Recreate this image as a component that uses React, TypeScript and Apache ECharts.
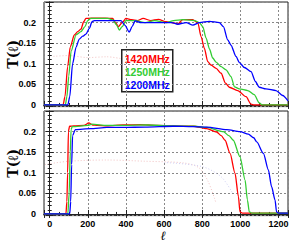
import React, { useEffect, useRef } from "react";
import * as echarts from "echarts";

const seriesNames = ["1420MHz", "1250MHz", "1200MHz"];
const seriesColors = ["#ff0000", "#33cc33", "#0000ff"];

const top1420 = [[-30,0],[70,0],[80,0.02],[94,0.093],[108,0.141],[129,0.17],[147,0.178],[164,0.184],[178,0.202],[190,0.21],[250,0.211],[330,0.21],[345,0.2],[360,0.19],[380,0.2],[400,0.21],[430,0.207],[460,0.205],[490,0.21],[530,0.205],[570,0.208],[611,0.202],[640,0.2],[672,0.197],[698,0.207],[750,0.207],[777,0.2],[794,0.166],[811,0.138],[829,0.105],[846,0.097],[873,0.089],[899,0.077],[922,0.053],[942,0.043],[986,0.035],[1030,0.02],[1056,0.002],[1073,0],[1250,0]];
const top1250 = [[-30,0],[82,0],[90,0.02],[100,0.07],[112,0.13],[138,0.17],[164,0.178],[185,0.19],[199,0.205],[216,0.21],[305,0.21],[330,0.207],[350,0.195],[365,0.182],[380,0.19],[400,0.205],[450,0.205],[500,0.2],[550,0.205],[611,0.2],[650,0.205],[700,0.207],[760,0.205],[785,0.2],[803,0.19],[820,0.163],[838,0.136],[855,0.114],[873,0.104],[899,0.093],[925,0.085],[951,0.069],[969,0.044],[995,0.039],[1039,0.035],[1073,0.025],[1099,0.005],[1116,0],[1250,0]];
const top1200 = [[-30,0],[95,0],[105,0.02],[120,0.1],[138,0.14],[155,0.16],[173,0.167],[190,0.172],[208,0.186],[222,0.202],[234,0.205],[300,0.205],[374,0.205],[395,0.193],[417,0.177],[432,0.19],[448,0.204],[480,0.2],[540,0.2],[580,0.2],[611,0.2],[640,0.2],[672,0.196],[716,0.2],[751,0.194],[785,0.2],[838,0.203],[890,0.2],[911,0.19],[934,0.158],[951,0.145],[977,0.118],[995,0.103],[1021,0.091],[1056,0.081],[1079,0.057],[1099,0.043],[1134,0.039],[1187,0.035],[1222,0.023],[1250,0.01]];

const bot1420 = [[-30,0],[85,0],[90,0.03],[94,0.1],[98,0.2],[104,0.213],[126,0.214],[180,0.215],[205,0.221],[225,0.216],[250,0.215],[300,0.214],[387,0.216],[475,0.217],[560,0.215],[649,0.214],[754,0.213],[824,0.207],[876,0.199],[900,0.19],[920,0.179],[946,0.147],[972,0.099],[990,0.042],[998,0.005],[1010,0.002],[1250,0.002]];
const bot1250 = [[-30,0],[95,0],[102,0.05],[108,0.15],[112,0.205],[118,0.212],[200,0.215],[220,0.218],[300,0.215],[400,0.215],[500,0.216],[650,0.214],[760,0.213],[824,0.21],[911,0.2],[940,0.19],[963,0.179],[998,0.139],[1025,0.082],[1037,0.034],[1047,0.005],[1060,0.002],[1250,0.002]];
const bot1200 = [[-30,0],[105,0],[110,0.03],[115,0.12],[120,0.19],[134,0.205],[213,0.207],[300,0.21],[387,0.21],[500,0.211],[649,0.213],[750,0.212],[824,0.211],[929,0.205],[998,0.2],[1042,0.194],[1070,0.185],[1086,0.175],[1121,0.147],[1147,0.107],[1164,0.066],[1182,0.034],[1190,0.005],[1200,0.002],[1250,0.002]];

const topFaint = [[20,0.118],[100,0.12],[200,0.115],[300,0.117],[380,0.112]];
const botFaintPink = [[-25,0.12],[100,0.128],[300,0.131],[500,0.128],[700,0.124],[780,0.113],[830,0.08],[870,0.03]];
const botFaintBlue = [[600,0.125],[800,0.115],[900,0.09],[960,0.05]];

const xMin = -30, xMax = 1250, yMin = -0.004, yMax = 0.25;

export default function App() {
  const ref = useRef<HTMLDivElement>(null);
  useEffect(() => {
    if (!ref.current) return;
    const chart = echarts.init(ref.current, null, { renderer: "svg" });
    const axisColor = "#222";
    const labelFont = { fontFamily: "Liberation Sans, Arial, sans-serif", fontWeight: "bold" as const, fontSize: 9, lineHeight: 9, color: "#000" };
    const splitLine = { show: true, lineStyle: { color: "#888", type: [2, 2] as any, width: 1 } };
    const grids = [
      { left: 44, right: 3, top: 2, height: 104.6, show: true, borderColor: axisColor, borderWidth: 1, containLabel: false, outerBoundsMode: "none" },
      { left: 44, right: 3, top: 111, height: 104.6, show: true, borderColor: axisColor, borderWidth: 1, containLabel: false, outerBoundsMode: "none" },
    ];
    const xAxes: any[] = [];
    const yAxes: any[] = [];
    for (let g = 0; g < 2; g++) {
      xAxes.push({
        type: "value", gridIndex: g, min: xMin, max: xMax, splitNumber: 6, position: "bottom",
        axisLine: { show: true, lineStyle: { color: axisColor } },
        axisTick: { show: true, inside: true, length: 4, lineStyle: { color: axisColor } },
        minorTick: { show: true, splitNumber: 4, length: 2, lineStyle: { color: axisColor } },
        splitLine,
        axisLabel: g === 1 ? { ...labelFont, margin: 4, showMinLabel: false, showMaxLabel: false,
          formatter: (v: number) => (v < 0 || v > 1200 ? "" : String(v)) } : { show: false },
        name: g === 1 ? "ℓ" : "",
        nameLocation: "middle", nameGap: 13.5, nameMoveOverlap: false,
        nameTextStyle: { fontFamily: "DejaVu Serif, serif", fontStyle: "italic", fontSize: 12.5, lineHeight: 12.5, color: "#000", verticalAlign: "top", padding: [0, 6, 0, 0] },
      });
      xAxes.push({
        type: "value", gridIndex: g, min: xMin, max: xMax, splitNumber: 6, position: "top",
        axisLine: { show: true, lineStyle: { color: axisColor } },
        axisTick: { show: true, inside: true, length: 4, lineStyle: { color: axisColor } },
        minorTick: { show: true, splitNumber: 4, length: 2, lineStyle: { color: axisColor } },
        splitLine: { show: false }, axisLabel: { show: false },
      });
      yAxes.push({
        type: "value", gridIndex: g, min: yMin, max: yMax, splitNumber: 5, position: "left",
        axisLine: { show: true, lineStyle: { color: axisColor } },
        axisTick: { show: true, inside: true, length: 4, lineStyle: { color: axisColor } },
        minorTick: { show: true, splitNumber: 5, length: 2, lineStyle: { color: axisColor } },
        splitLine,
        axisLabel: { ...labelFont, margin: 8, formatter: (v: number) => (v < -1e-9 || v > 0.2001 ? "" : String(Math.round(v * 100) / 100)) },
        name: "T(ℓ)", nameLocation: "middle", nameGap: 24, nameMoveOverlap: false,
        nameTextStyle: { fontFamily: "DejaVu Serif, serif", fontWeight: "bold", fontSize: 14, color: "#000" },
      });
      yAxes.push({
        type: "value", gridIndex: g, min: yMin, max: yMax, splitNumber: 5, position: "right",
        axisLine: { show: true, lineStyle: { color: axisColor } },
        axisTick: { show: true, inside: true, length: 4, lineStyle: { color: axisColor } },
        minorTick: { show: true, splitNumber: 5, length: 2, lineStyle: { color: axisColor } },
        splitLine: { show: false }, axisLabel: { show: false },
      });
    }
    const mkLine = (data: number[][], g: number, color: string, name: string) => ({
      type: "line", name, data, xAxisIndex: g * 2, yAxisIndex: g * 2, showSymbol: false,
      smooth: 0.25, smoothMonotone: "x", lineStyle: { color, width: 1.3 }, itemStyle: { color }, z: 3,
    });
    const mkFaint = (data: number[][], g: number, color: string) => ({
      type: "line", data, xAxisIndex: g * 2, yAxisIndex: g * 2, showSymbol: false, smooth: 0.3,
      lineStyle: { color, width: 1, type: [1, 2] as any }, z: 2, silent: true,
    });
    const topSets = [top1420, top1250, top1200];
    const botSets = [bot1420, bot1250, bot1200];
    const series: any[] = [
      mkFaint(topFaint, 0, "#f3c4c4"),
      mkFaint(botFaintPink, 1, "#f3c4c4"),
      mkFaint(botFaintBlue, 1, "#d0d0f4"),
    ];
    topSets.forEach((d, i) => series.push(mkLine(d, 0, seriesColors[i], seriesNames[i])));
    botSets.forEach((d, i) => series.push(mkLine(d, 1, seriesColors[i], seriesNames[i])));

    const legendFont = "bold 10.5px 'Liberation Sans', Arial, sans-serif";
    chart.setOption({
      animation: false,
      backgroundColor: "#fff",
      grid: grids,
      xAxis: xAxes,
      yAxis: yAxes,
      series,
      graphic: [
        {
          type: "group", left: 121, top: 49, z: 10,
          children: [
            { type: "rect", shape: { x: 0, y: 0, width: 51, height: 42 }, style: { fill: "#fff", stroke: "#222", lineWidth: 1.5 } },
            ...seriesNames.map((n, i) => ({
              type: "text", x: 25.5, y: 9.5 + i * 12.8,
              style: { text: n, font: legendFont, fill: seriesColors[i], textAlign: "center", textVerticalAlign: "middle" },
            })),
          ],
        },
      ],
    });
    return () => chart.dispose();
  }, []);
  return <div ref={ref} style={{ width: 291, height: 242, position: "absolute", left: 0, top: 0 }} />;
}
